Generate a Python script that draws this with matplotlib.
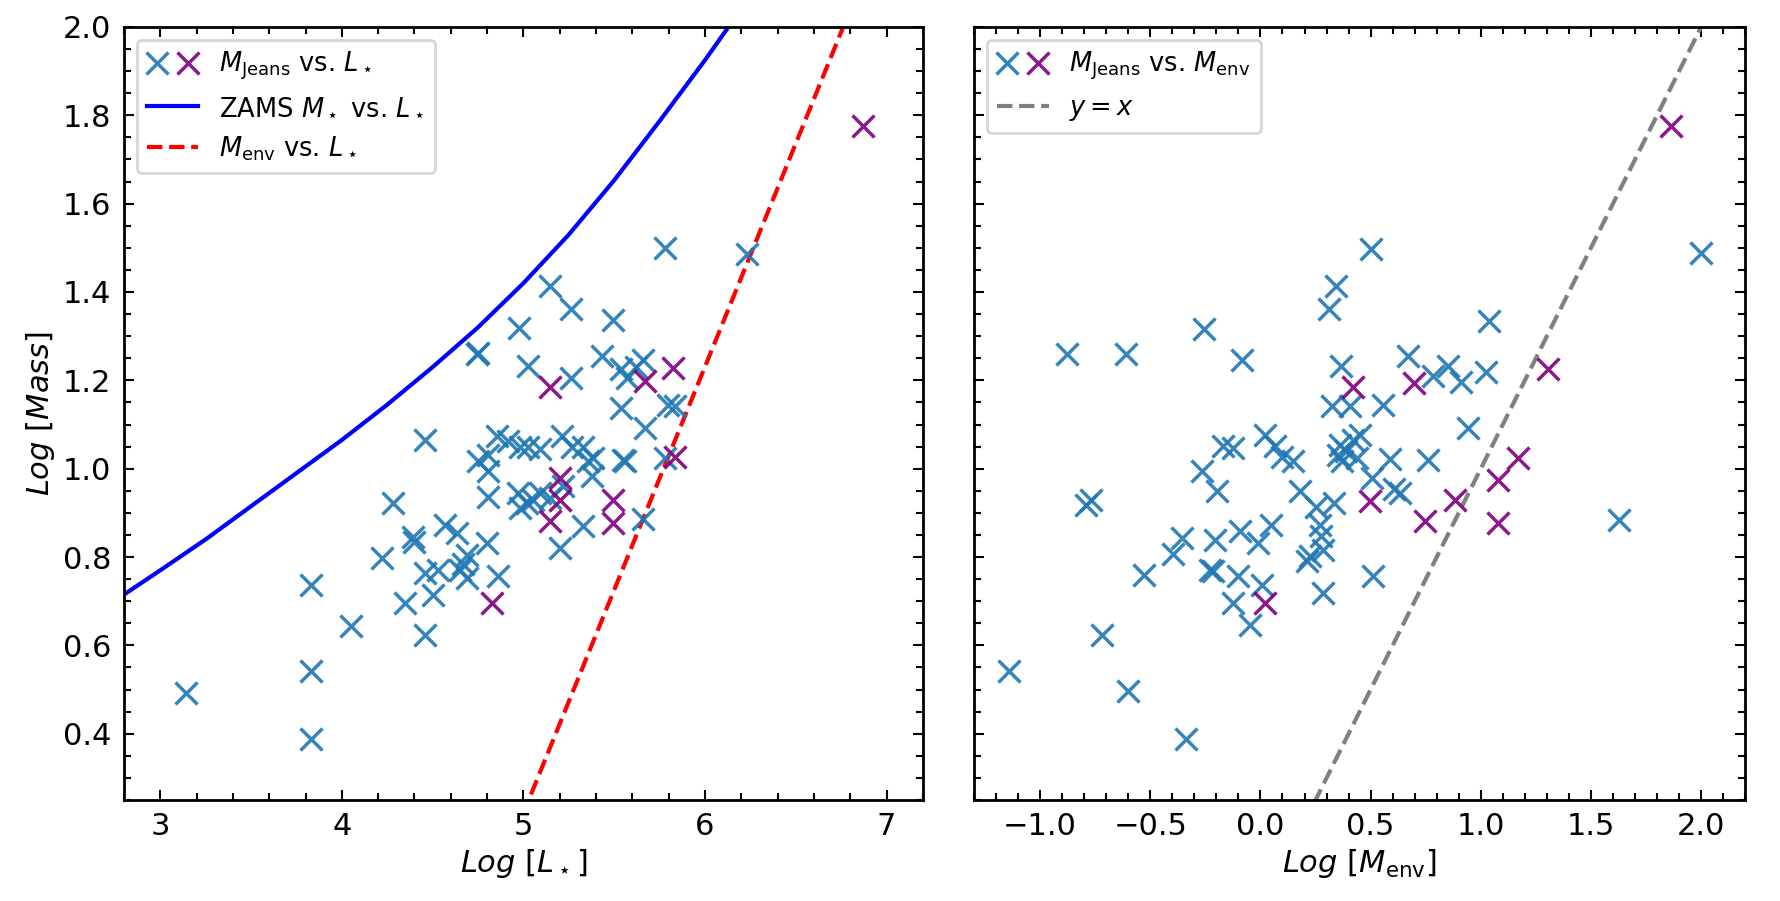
import matplotlib
matplotlib.use("Agg")
import matplotlib.pyplot as plt
from matplotlib.ticker import MultipleLocator
from matplotlib.legend_handler import HandlerTuple

# ---------------- data ----------------
# Left panel: Log L* vs Log M_Jeans (blue = regular, purple = flagged)
left_blue_logL = [5.78, 6.23, 5.146, 5.261, 5.494, 4.977, 4.742, 4.752, 5.027, 5.261,
                  5.43, 5.54, 5.57, 5.62, 5.66, 5.54, 5.797, 5.834, 5.669,
                  4.457, 4.852, 4.916, 4.98, 5.026, 5.091, 5.21, 5.265, 5.33, 4.751,
                  4.806, 5.357, 5.384, 5.55, 5.559, 5.779, 4.806, 4.806, 5.375, 4.971,
                  5.017, 4.98, 5.091, 5.053, 5.146, 5.22, 5.33, 5.66,
                  4.283, 4.39, 4.40, 4.219, 4.568, 4.632, 4.797, 4.687, 4.669, 4.457,
                  4.531, 4.65, 4.687, 4.861, 4.503, 4.347, 4.457, 3.143, 3.828, 3.828,
                  3.828, 4.052, 5.201]
left_blue_logM = [1.50, 1.487, 1.413, 1.361, 1.337, 1.319, 1.260, 1.262, 1.233, 1.205,
                  1.254, 1.225, 1.205, 1.23, 1.247, 1.137, 1.145, 1.141, 1.092,
                  1.066, 1.073, 1.062, 1.05, 1.05, 1.045, 1.073, 1.05, 1.05, 1.017,
                  1.032, 1.017, 1.024, 1.020, 1.017, 1.024, 0.994, 0.937, 0.983, 0.945,
                  0.922, 0.911, 0.945, 0.93, 0.934, 0.96, 0.870, 0.885,
                  0.922, 0.845, 0.835, 0.798, 0.873, 0.854, 0.832, 0.805, 0.785, 0.764,
                  0.771, 0.771, 0.752, 0.756, 0.715, 0.696, 0.624, 0.493, 0.736, 0.542,
                  0.389, 0.644, 0.821]
left_purple_logL = [6.87, 5.146, 5.669, 5.825, 5.201, 5.201, 5.146, 5.494, 5.494, 5.834, 4.828]
left_purple_logM = [1.775, 1.186, 1.198, 1.228, 0.979, 0.930, 0.881, 0.930, 0.877, 1.026, 0.696]

# ZAMS M* vs L* curve
zams_logL = [2.8, 3.0, 3.25, 3.5, 3.75, 4.0, 4.25, 4.5, 4.75, 5.0, 5.25, 5.5, 5.75, 6.0, 6.25]
zams_logM = [0.715, 0.77, 0.84, 0.915, 0.99, 1.065, 1.145, 1.23, 1.32, 1.42, 1.53, 1.653, 1.787, 1.925, 2.07]

# M_env vs L* relation
env_logL = [4.95, 6.85]
env_logM = [0.17, 2.09]

# Right panel: Log M_env vs Log M_Jeans
right_blue_logMenv = [0.503, 2.0, 0.342, 0.312, -0.255, 1.035, -0.880, -0.612, -0.085, 0.365,
                      0.67, 0.784, 0.852, 0.912, 1.025, 0.323, 0.406, 0.557, 0.943,
                      -0.169, -0.123, 0.020, 0.066, 0.096, 0.149, -0.267, -0.199, 0.36, 0.421,
                      0.451, 0.39, 0.353, 0.368, 0.436, 0.587, 0.761, 0.504, 0.179, 0.250,
                      0.335, 0.605, 0.633, -0.793, -0.771, 1.625, 0.27,
                      0.277, 0.285, 0.224, 0.209, -0.358, -0.398, -0.207, -0.093, -0.01, 0.05,
                      -0.229, -0.214, -0.101, 0.005, -0.123, -0.048, -0.529, 0.285, 0.512,
                      -1.141, -0.718, -0.600, -0.337]
right_blue_logM = [1.498, 1.489, 1.413, 1.362, 1.317, 1.335, 1.260, 1.260, 1.245, 1.233,
                   1.254, 1.209, 1.233, 1.196, 1.220, 1.141, 1.141, 1.145, 1.092,
                   1.051, 1.047, 1.077, 1.051, 1.026, 1.017, 0.994, 0.949, 1.054, 1.066,
                   1.077, 1.039, 1.032, 1.017, 1.024, 1.022, 1.020, 0.978, 0.950, 0.913,
                   0.922, 0.953, 0.945, 0.918, 0.930, 0.883, 0.872,
                   0.847, 0.817, 0.802, 0.79, 0.843, 0.806, 0.839, 0.858, 0.832, 0.873,
                   0.771, 0.768, 0.756, 0.737, 0.696, 0.647, 0.760, 0.718, 0.756,
                   0.541, 0.624, 0.496, 0.389]
right_purple_logMenv = [1.863, 1.307, 0.418, 0.698, 0.497, 0.882, 0.746, 1.079, 1.17, 1.079, 0.02]
right_purple_logM = [1.775, 1.226, 1.185, 1.195, 0.926, 0.93, 0.881, 0.975, 1.024, 0.877, 0.696]

# y = x reference
yx_vals = [-1.3, 2.2]

# ---------------- style ----------------
BLUE = "#1f77b4"
PURPLE = "purple"
ALPHA = 0.9
MS = 16
MEW = 2.5
TICK_FS = 22
LEG_FS = 18.5

plt.rcParams["mathtext.fontset"] = "dejavusans"

fig = plt.figure(figsize=(17.81, 9.01), dpi=100)
ax1 = fig.add_axes([0.0696, 0.1121, 0.4486, 0.858])
ax2 = fig.add_axes([0.5469, 0.1121, 0.4330, 0.858], sharey=ax1)


def style(ax):
    ax.tick_params(which="both", direction="in", top=True, right=True,
                   labelsize=TICK_FS, width=1.5)
    ax.tick_params(which="major", length=7.2, pad=9)
    ax.tick_params(which="minor", length=5)
    for s in ax.spines.values():
        s.set_linewidth(2.0)


def xmark(ax, x, y, color):
    return ax.plot(x, y, linestyle="none", marker="x", ms=MS, mew=MEW,
                   color=color, alpha=ALPHA)[0]


# Left panel
zams_line, = ax1.plot(zams_logL, zams_logM, color="blue", lw=3)
env_line, = ax1.plot(env_logL, env_logM, color="red", lw=3, ls="--")
hb1 = xmark(ax1, left_blue_logL, left_blue_logM, BLUE)
hp1 = xmark(ax1, left_purple_logL, left_purple_logM, PURPLE)
ax1.set_xlim(2.8, 7.2)
ax1.set_ylim(0.25, 2.0)
ax1.xaxis.set_major_locator(MultipleLocator(1))
ax1.xaxis.set_minor_locator(MultipleLocator(0.2))
ax1.yaxis.set_major_locator(MultipleLocator(0.2))
ax1.yaxis.set_minor_locator(MultipleLocator(0.05))
ax1.set_xlabel(r"$Log\ [L_\star]$", fontsize=TICK_FS)
ax1.set_ylabel(r"$Log\ [Mass]$", fontsize=TICK_FS)
style(ax1)
leg1 = ax1.legend([(hb1, hp1), zams_line, env_line],
                  [r"$M_{\rm Jeans}$ vs. $L_\star$", r"ZAMS $M_\star$ vs. $L_\star$",
                   r"$M_{\rm env}$ vs. $L_\star$"],
                  handler_map={tuple: HandlerTuple(ndivide=None)},
                  loc="upper left", fontsize=LEG_FS)
leg1.get_frame().set_linewidth(2.0)

# Right panel
yx_line, = ax2.plot(yx_vals, yx_vals, color="gray", lw=3, ls="--")
hb2 = xmark(ax2, right_blue_logMenv, right_blue_logM, BLUE)
hp2 = xmark(ax2, right_purple_logMenv, right_purple_logM, PURPLE)
ax2.set_xlim(-1.3, 2.2)
ax2.xaxis.set_major_locator(MultipleLocator(0.5))
ax2.xaxis.set_minor_locator(MultipleLocator(0.1))
ax2.set_xlabel(r"$Log\ [M_{\rm env}]$", fontsize=TICK_FS)
style(ax2)
ax2.tick_params(labelleft=False)
leg2 = ax2.legend([(hb2, hp2), yx_line],
                  [r"$M_{\rm Jeans}$ vs. $M_{\rm env}$", r"$y = x$"],
                  handler_map={tuple: HandlerTuple(ndivide=None)},
                  loc="upper left", fontsize=LEG_FS)
leg2.get_frame().set_linewidth(2.0)

fig.savefig("out.png", dpi=100)
